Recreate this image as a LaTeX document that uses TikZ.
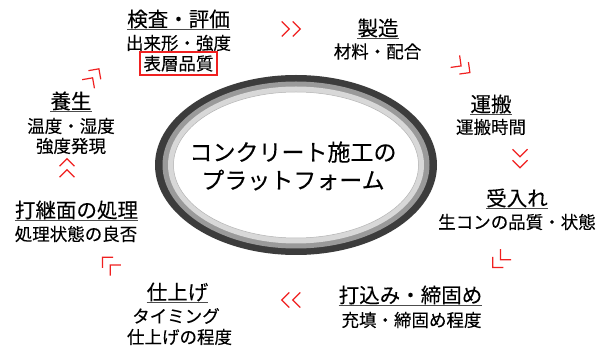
\documentclass[tikz,border=0pt]{standalone}
\usepackage{fontspec}
\setmainfont[FakeBold=0.15]{Noto Sans CJK JP}
\definecolor{ringdark}{HTML}{3C3C3C}
\definecolor{ringmid}{HTML}{9A9A9A}
\definecolor{ringlight}{HTML}{D8D8D8}
\definecolor{chevred}{HTML}{F02020}
\tikzset{
  ttl/.style={inner sep=0pt, font=\fontsize{20.5}{22}\selectfont},
  sub/.style={inner sep=0pt, font=\fontsize{17.5}{19}\selectfont},
  ctr/.style={inner sep=0pt, align=center, font=\fontsize{23}{28}\selectfont},
  uline/.style={draw=black!70, line width=0.9pt},
  redchev/.style={draw=chevred, line width=1.2pt},
  redbox/.style={draw=chevred, line width=1.1pt, inner sep=0pt, minimum width=77pt, minimum height=23pt, font=\fontsize{17.5}{19}\selectfont}
}
\newcommand\chevpair[3]{%
  \begin{scope}[shift={(#1,#2)}, rotate=#3]
    \draw[redchev] (1.75,7.5) -- (9.25,0) -- (1.75,-7.5);
    \draw[redchev] (-9.25,7.5) -- (-1.75,0) -- (-9.25,-7.5);
  \end{scope}}
\newcommand\ulin[1]{\draw[uline] ([yshift=-10.5pt]#1.west) -- ([yshift=-10.5pt]#1.east);}
\begin{document}
\begin{tikzpicture}[x=1pt, y=-1pt]
\useasboundingbox (0,0) rectangle (608,347);
\fill[white] (0,0) rectangle (608,347);
% central platform
\fill[ringdark] (296,165) ellipse [x radius=141, y radius=90];
\fill[ringmid] (296,165) ellipse [x radius=133.5, y radius=83.5];
\fill[ringlight] (296,165) ellipse [x radius=128, y radius=78.5];
\filldraw[fill=white, draw=black!30, line width=0.5pt] (296,165) ellipse [x radius=122.5, y radius=73];
\node[ctr] (platform) at (293,166) {コンクリート施工の\\プラットフォーム};
% 1 検査・評価
\node[ttl] (t1) at (178.5,19) {検査・評価}; \ulin{t1}
\node[sub] (s1) at (178.5,43) {出来形・強度};
\node[redbox] (s1b) at (178.5,63.5) {表層品質};
% 2 製造
\node[ttl] (t2) at (378,28) {製造}; \ulin{t2}
\node[sub] (s2) at (377.5,51.5) {材料・配合};
% 3 運搬
\node[ttl] (t3) at (491,104) {運搬}; \ulin{t3}
\node[sub] (s3) at (491,127) {運搬時間};
% 4 受入れ
\node[ttl] (t4) at (517,198) {受入れ}; \ulin{t4}
\node[sub] (s4) at (517,222) {生コンの品質・状態};
% 5 打込み・締固め
\node[ttl] (t5) at (410.5,295) {打込み・締固め}; \ulin{t5}
\node[sub] (s5) at (411.5,320) {充填・締固め程度};
% 6 仕上げ
\node[ttl] (t6) at (177.5,292) {仕上げ}; \ulin{t6}
\node[sub] (s6a) at (176,316) {タイミング};
\node[sub] (s6b) at (179.5,337) {仕上げの程度};
% 7 打継面の処理
\node[ttl] (t7) at (76.5,210) {打継面の処理}; \ulin{t7}
\node[sub] (s7) at (76,234) {処理状態の良否};
% 8 養生
\node[ttl] (t8) at (71,101) {養生}; \ulin{t8}
\node[sub] (s8a) at (71,126) {温度・湿度};
\node[sub] (s8b) at (71,146) {強度発現};
% red chevrons (clockwise flow)
\chevpair{291}{29}{0}
\chevpair{462.5}{67}{-37}
\chevpair{520}{158.5}{-90}
\chevpair{499.3}{261}{-135}
\chevpair{291}{300}{180}
\chevpair{109}{263.8}{135}
\chevpair{67}{168}{90}
\chevpair{93.6}{76.4}{55}
\end{tikzpicture}
\end{document}
